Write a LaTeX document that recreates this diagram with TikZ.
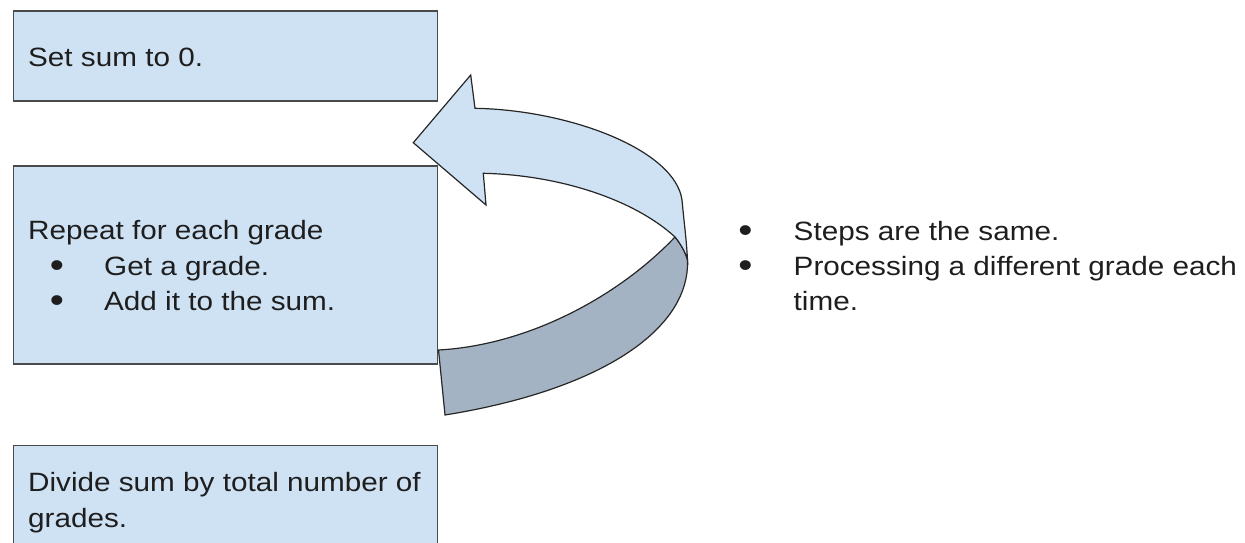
\documentclass[tikz,border=0pt]{standalone}
\usepackage{fontspec}
\setmainfont{Liberation Sans}[FakeStretch=1.12]
\definecolor{boxfill}{HTML}{CFE2F3}
\definecolor{boxline}{HTML}{4A4A4A}
\definecolor{darkband}{HTML}{A4B3C3}
\definecolor{ink}{HTML}{1E1E1E}
\begin{document}
\begin{tikzpicture}[x=1pt,y=-1pt,
  box/.style={draw=boxline,fill=boxfill,line width=1.6pt,inner sep=0pt,anchor=north west},
  txt/.style={anchor=base west,inner sep=0pt,text=ink,font=\fontsize{26.5}{35.5}\selectfont},
  bul/.style={anchor=center,inner sep=0pt,text=ink,font=\fontsize{36}{36}\selectfont},
  band/.style={draw=black!85,line width=1.2pt,line join=miter}]
\useasboundingbox (0,0) rectangle (1245,543);
\clip (0,0) rectangle (1245,543);
% boxes
\node[box,minimum width=424pt,minimum height=90pt] (b1) at (12.7,10) {};
\node[box,minimum width=424pt,minimum height=198pt] (b2) at (12.7,165) {};
\node[box,minimum width=424pt,minimum height=130pt] (b3) at (12.7,444.5) {};
% box texts
\node[txt] (t1) at (28,66.7) {Set sum to 0.};
\node[txt] (t2) at (28,239.5) {Repeat for each grade};
\node[bul] (t2b1) at (57,269) {\textbullet};
\node[txt] (t2l1) at (104,275) {Get a grade.};
\node[bul] (t2b2) at (57,304.5) {\textbullet};
\node[txt] (t2l2) at (104,310.5) {Add it to the sum.};
\node[txt] (t3a) at (28,491.5) {Divide sum by total number of};
\node[txt] (t3b) at (28,527.5) {grades.};
% right notes
\node[bul] (rb1) at (745.5,234) {\textbullet};
\node[txt] (r1) at (793.5,240) {Steps are the same.};
\node[bul] (rb2) at (745.5,269) {\textbullet};
\node[txt] (r2) at (793.5,275) {Processing a different grade each};
\node[txt] (r3) at (793.5,310) {time.};
% curved arrow
\coordinate (T) at (413.3,142.7);
\coordinate (U) at (470.7,75);
\coordinate (S1) at (475,108.3);
\coordinate (S2) at (483.3,173.3);
\coordinate (L) at (486,205);
\coordinate (C) at (682,200);
\coordinate (B) at (687.5,260);
\coordinate (A) at (675,237);
\coordinate (D) at (445,415);
\coordinate (E) at (438.5,350);
\path[band,fill=darkband] (A) .. controls (680,243) and (685.5,252) .. (B)
  .. controls (690,330) and (600,390) .. (D) -- (E)
  .. controls (530,345) and (620,295) .. (A) -- cycle;
\path[band,fill=boxfill] (T) -- (U) -- (S1)
  .. controls (570,110) and (675,150) .. (C)
  .. controls (684,222) and (686.5,240) .. (B)
  .. controls (685.5,252) and (680,243) .. (A)
  .. controls (635,200) and (560,175) .. (S2) -- (L) -- cycle;
\end{tikzpicture}
\end{document}
